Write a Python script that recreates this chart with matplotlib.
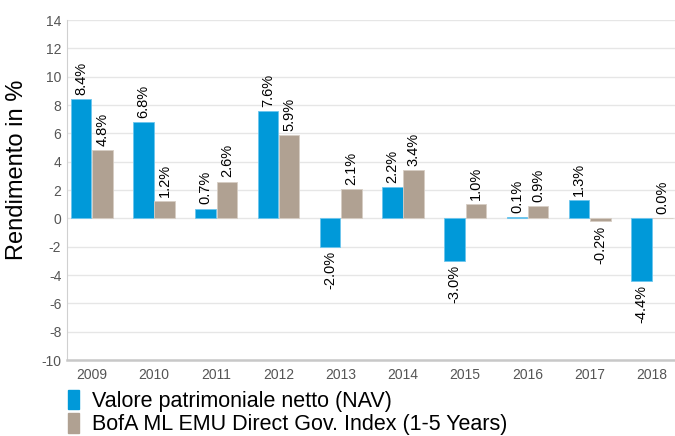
import matplotlib.pyplot as plt
import numpy as np
from matplotlib.patches import Patch

plt.rcParams['font.family'] = ['Liberation Sans', 'DejaVu Sans']
plt.rcParams['axes.unicode_minus'] = False

years = ['2009', '2010', '2011', '2012', '2013', '2014', '2015', '2016', '2017', '2018']
nav = [8.4, 6.8, 0.7, 7.6, -2.0, 2.2, -3.0, 0.1, 1.3, -4.4]
bofa = [4.8, 1.2, 2.6, 5.9, 2.1, 3.4, 1.0, 0.9, -0.2, 0.0]
series_names = ['Valore patrimoniale netto (NAV)', 'BofA ML EMU Direct Gov. Index (1-5 Years)']

BLUE = '#0099d9'
TAN = '#b0a192'

fig = plt.figure(figsize=(6.75, 4.36), dpi=100)
ax = fig.add_axes([0.099, 0.174, 0.901, 0.780])

x = np.arange(len(years))
w = 0.33
b1 = ax.bar(x - w / 2 - 0.005, nav, w, color=BLUE, edgecolor='#6cc6ee', linewidth=0.6, zorder=3)
b2 = ax.bar(x + w / 2 + 0.005, bofa, w, color=TAN, edgecolor='#d6cdc4', linewidth=0.6, zorder=3)

# etichette valori ruotate
for bars, vals in ((b1, nav), (b2, bofa)):
    for r, v in zip(bars, vals):
        cx = r.get_x() + r.get_width() / 2
        if v >= 0:
            ax.annotate(f'{v:.1f}%', (cx, v), xytext=(0, 3), textcoords='offset points',
                        rotation=90, ha='center', va='bottom', fontsize=10.5, color='black')
        else:
            ax.annotate(f'{v:.1f}%', (cx, v), xytext=(0, -3), textcoords='offset points',
                        rotation=90, ha='center', va='top', fontsize=10.5, color='black')

ax.set_ylim(-10, 14)
ax.set_yticks(range(-10, 15, 2))
ax.set_xlim(-0.4, 9.37)
ax.set_xticks(x)
ax.set_xticklabels(years)
ax.grid(axis='y', color='#e6e6e6', linewidth=1, zorder=0)
ax.tick_params(axis='both', length=0, labelsize=10, labelcolor='#555555')
ax.tick_params(axis='x', pad=6)
ax.tick_params(axis='y', pad=4)
for s in ['top', 'right']:
    ax.spines[s].set_visible(False)
ax.spines['left'].set_color('#d0d0d0')
ax.spines['bottom'].set_color('#c8c8c8')
ax.spines['bottom'].set_linewidth(1.8)
ax.set_ylabel('Rendimento in %', fontsize=17)
ax.yaxis.set_label_coords(-0.064, 0.56)

handles = [Patch(color=BLUE), Patch(color=TAN)]
fig.legend(handles, series_names, loc='lower left', bbox_to_anchor=(0.088, -0.018),
           frameon=False, fontsize=15.5, handlelength=0.5, handleheight=1.05,
           handletextpad=0.6, labelspacing=0.05, borderaxespad=0)

fig.savefig('out.png', dpi=100)
